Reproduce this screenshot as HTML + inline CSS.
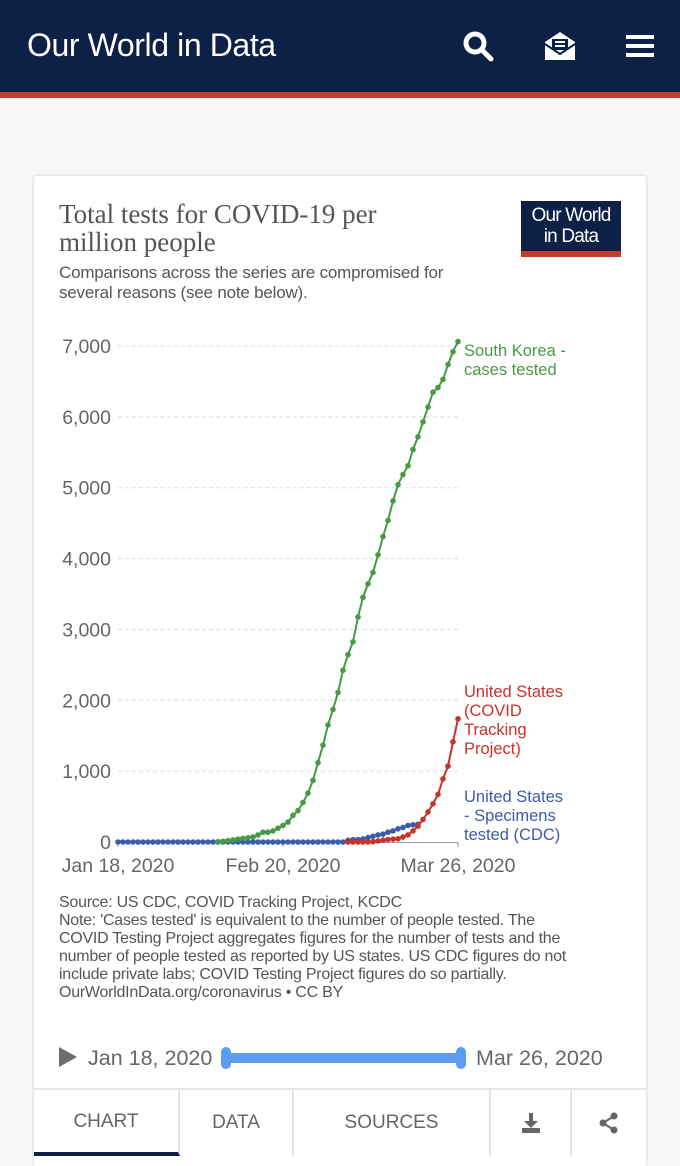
<!DOCTYPE html>
<html><head><meta charset="utf-8">
<style>
*{margin:0;padding:0;box-sizing:border-box}
body{width:680px;height:1155px;background:#f7f7f7;font-family:"Liberation Sans",sans-serif;position:relative;overflow:hidden}
.hdr{position:absolute;left:0;top:0;width:680px;height:92px;background:#0d2147}
.stripe{position:absolute;left:0;top:92px;width:680px;height:6px;background:#c8392d}
.brand{position:absolute;left:27px;top:27px;color:#fff;font-size:32px;font-weight:300;letter-spacing:-0.4px}
.card{position:absolute;left:34px;top:176px;width:612px;height:990px;background:#fff;box-shadow:0 0 3px rgba(0,0,0,.18);border-radius:2px}
.title{position:absolute;left:25px;top:24px;font-family:"Liberation Serif",serif;font-size:27px;line-height:28px;color:#555;width:370px}
.sub{position:absolute;left:25px;top:87px;font-size:17px;line-height:20px;color:#555;letter-spacing:-0.2px}
.logo{position:absolute;left:487px;top:25px;width:100px;height:56px;background:#0d2147;border-bottom:6px solid #c8392d;color:#fff;font-size:19px;line-height:21px;text-align:center;padding-top:4px;letter-spacing:-0.8px}
.foot{position:absolute;left:25px;top:718px;font-size:16px;line-height:18px;color:#555;letter-spacing:-0.25px;white-space:nowrap}
.tl{position:absolute;left:0;top:860px;width:612px;height:54px;border-bottom:2px solid #e6e6e6}
.tabs{position:absolute;left:0;top:914px;width:612px;height:66px}
.tab{position:absolute;top:0;height:66px;border-right:2px solid #e6e6e6;color:#666;font-size:19px;text-align:center;line-height:66px}
</style></head><body>
<div class="hdr">
<div class="brand">Our World in Data</div>
<svg style="position:absolute;left:462px;top:30px" width="32" height="32"><circle cx="13" cy="13" r="9" stroke="#fff" stroke-width="5" fill="none"/><line x1="20" y1="20" x2="29" y2="29" stroke="#fff" stroke-width="5" stroke-linecap="round"/></svg>
<svg style="position:absolute;left:543px;top:30px" width="34" height="32"><path d="M2 12 L17 2 L32 12 V30 H2 Z" fill="#fff"/><rect x="9" y="9" width="16" height="11" fill="#0d2147"/><rect x="12" y="11" width="10" height="2" fill="#fff"/><rect x="12" y="15" width="10" height="2" fill="#fff"/><path d="M2 14 L17 24 L32 14" stroke="#0d2147" stroke-width="2" fill="none"/></svg>
<svg style="position:absolute;left:626px;top:33px" width="28" height="26"><rect x="0" y="2" width="28" height="4" fill="#fff"/><rect x="0" y="11" width="28" height="4" fill="#fff"/><rect x="0" y="20" width="28" height="4" fill="#fff"/></svg>
</div>
<div class="stripe"></div>
<div class="card">
<div class="title">Total tests for COVID-19 per million people</div>
<div class="sub">Comparisons across the series are compromised for<br>several reasons (see note below).</div>
<div class="logo">Our World<br>in Data</div>
<svg id="chart" style="position:absolute;left:-34px;top:-176px" width="680" height="1155"></svg>
<div class="foot">Source: US CDC, COVID Tracking Project, KCDC<br>Note: 'Cases tested' is equivalent to the number of people tested. The<br>COVID Testing Project aggregates figures for the number of tests and the<br>number of people tested as reported by US states. US CDC figures do not<br>include private labs; COVID Testing Project figures do so partially.<br>OurWorldInData.org/coronavirus • CC BY</div>
<div class="tl">
<svg style="position:absolute;left:23px;top:10px" width="22" height="22"><path d="M2 1 L20 11 L2 21 Z" fill="#6d6d6d"/></svg>
<div style="position:absolute;left:54px;top:10px;font-size:21.5px;color:#666">Jan 18, 2020</div>
<div style="position:absolute;left:192px;top:17px;width:236px;height:10px;background:#5b9cf5;border-radius:2px"></div>
<div style="position:absolute;left:187px;top:11px;width:10px;height:22px;background:#5b9cf5;border-radius:5px"></div>
<div style="position:absolute;left:422px;top:11px;width:10px;height:22px;background:#5b9cf5;border-radius:5px"></div>
<div style="position:absolute;left:442px;top:10px;font-size:21.5px;color:#666">Mar 26, 2020</div>
</div>
<div class="tabs">
<div class="tab" style="left:0;width:146px;border-bottom:4px solid #0d2147;line-height:64px">CHART</div>
<div class="tab" style="left:146px;width:114px">DATA</div>
<div class="tab" style="left:260px;width:197px">SOURCES</div>
<div class="tab" style="left:457px;width:81px"><svg width="22" height="22" style="vertical-align:middle"><rect x="9" y="1" width="4" height="9" fill="#666"/><path d="M4 9 H18 L11 16 Z" fill="#666"/><rect x="2" y="16" width="18" height="5" fill="#666"/></svg></div>
<div class="tab" style="left:538px;width:74px;border-right:none"><svg width="22" height="22" style="vertical-align:middle"><circle cx="16" cy="4" r="3.5" fill="#666"/><circle cx="5" cy="11" r="3.5" fill="#666"/><circle cx="16" cy="18" r="3.5" fill="#666"/><path d="M16 4 L5 11 L16 18" stroke="#666" stroke-width="2" fill="none"/></svg></div>
</div>
</div>
<script>
const yTicks=[0,1000,2000,3000,4000,5000,6000,7000];
const yTickLabels=["0","1,000","2,000","3,000","4,000","5,000","6,000","7,000"];
const xTickDays=[0,33,68];
const xTickLabels=["Jan 18, 2020","Feb 20, 2020","Mar 26, 2020"];
const koreaStart=20;
const koreaValues=[5,10,20,30,40,50,60,71,100,138,138,157,195,233,281,376,443,557,690,871,1119,1367,1652,1871,2110,2424,2643,2824,3176,3452,3643,3805,4052,4310,4538,4814,5043,5186,5310,5538,5719,5929,6138,6348,6414,6529,6738,6919,7062];
const ctpStart=46;
const ctpValues=[0,0,0,0,0,5,15,25,35,40,45,71,100,157,224,319,424,538,671,890,1071,1414,1738];
const cdcStart=0;
const cdcValues=[0,0,0,0,0,0,0,0,0,0,0,0,0,0,0,0,0,0,0,0,0,0,0,0,0,0,0,0,0,0,0,0,0,0,0,0,0,0,0,0,0,0,0,0,0,0,24,33,33,43,62,81,100,110,138,157,186,205,233,243,250];
const X=d=>118+d*5;
const Y=v=>842-v*496/7000;
const svg=document.getElementById('chart');
const NS='http://www.w3.org/2000/svg';
function mk(t,a){const e=document.createElementNS(NS,t);for(const k in a)e.setAttribute(k,a[k]);svg.appendChild(e);return e;}
yTicks.forEach((v,i)=>{
 if(v>0){const g=mk('line',{x1:118,x2:458,y1:Y(v),y2:Y(v),stroke:'#ddd','stroke-dasharray':'4,3'});
 
 }
 const t=mk('text',{x:111,y:Y(v)+7,'text-anchor':'end','font-size':19.5,fill:'#666','font-family':'Liberation Sans,sans-serif'});
 t.textContent=yTickLabels[i];
 
 
});
const ax=mk('line',{x1:118,x2:458,y1:842.5,y2:842.5,stroke:'#999'});


xTickDays.forEach((d,i)=>{
 mk('line',{x1:X(d),x2:X(d),y1:842,y2:847,stroke:'#999'});
 const t=mk('text',{x:X(d),y:872,'text-anchor':'middle','font-size':19.5,fill:'#666','font-family':'Liberation Sans,sans-serif'});
 t.textContent=xTickLabels[i];
 
 
});
function series(start,vals,col,name){
 const pts=vals.map((v,i)=>X(start+i).toFixed(1)+','+Y(v).toFixed(1)).join(' ');
 const l=mk('polyline',{points:pts,fill:'none',stroke:col,'stroke-width':2});
 
 
 vals.forEach((v,i)=>{const c=mk('circle',{cx:X(start+i),cy:Y(v),r:2.8,fill:col});
 
 });
}
series(cdcStart,cdcValues,'#3b5bab','cdc');
series(ctpStart,ctpValues,'#c9312c','ctp');
series(koreaStart,koreaValues,'#479a43','korea');
function label(lines,y,col,name){
 const t=mk('text',{x:464,y:y,'font-size':16.5,fill:col,'font-family':'Liberation Sans,sans-serif'});
 lines.forEach((s,i)=>{const sp=document.createElementNS(NS,'tspan');sp.setAttribute('x',464);sp.setAttribute('dy',i?19:0);sp.textContent=s;t.appendChild(sp);});
 
 
}
label(['South Korea -','cases tested'],356,'#479a43','legend-south-korea');
label(['United States','(COVID','Tracking','Project)'],697,'#c9312c','legend-us-ctp');
label(['United States','- Specimens','tested (CDC)'],802,'#3b5bab','legend-us-cdc');
</script>
</body></html>
